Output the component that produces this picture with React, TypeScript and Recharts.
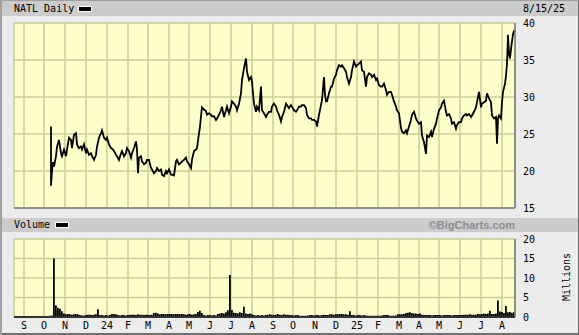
import React from 'react';
import { ComposedChart, Line, Bar, XAxis, YAxis, CartesianGrid } from 'recharts';

// x = trading-day index from 8/15/23 (0) to 8/15/25 (501)
const monthTicks = [10, 30, 51, 72, 93, 114, 134, 155, 175, 196, 217, 238, 259, 279, 301, 322, 343, 364, 385, 405, 425, 446, 467, 488];
const monthLabels = ['S', 'O', 'N', 'D', '24', 'F', 'M', 'A', 'M', 'J', 'J', 'A', 'S', 'O', 'N', 'D', '25', 'F', 'M', 'A', 'M', 'J', 'J', 'A'];

const priceTicks = [15, 20, 25, 30, 35, 40];
const volumeTicks = [0, 5, 10, 15, 20];

const priceDays = [
  37, 37, 38, 39, 40, 42, 43, 45, 47, 48, 50, 52, 53, 55, 57, 58, 60, 62, 63, 65, 67, 68, 70, 72, 73, 75, 77, 78, 80, 82,
  83, 85, 87, 88, 90, 92, 93, 95, 97, 99, 100, 102, 103, 105, 107, 108, 110, 112, 113, 115, 117, 118, 120, 122, 123, 124, 125, 127, 128, 130,
  132, 133, 135, 137, 138, 140, 142, 143, 145, 147, 148, 150, 152, 153, 155, 157, 158, 160, 162, 163, 165, 167, 168, 170, 172, 173, 175, 177, 178, 180,
  182, 183, 185, 186, 187, 188, 190, 192, 193, 195, 197, 198, 200, 202, 203, 205, 207, 208, 210, 212, 213, 215, 217, 218, 220, 222, 223, 225, 227, 228,
  230, 232, 233, 235, 237, 238, 239, 240, 242, 243, 245, 247, 248, 250, 252, 253, 255, 257, 258, 260, 262, 263, 265, 267, 268, 270, 272, 273, 275, 277,
  278, 280, 282, 283, 285, 287, 288, 290, 292, 293, 295, 297, 298, 300, 302, 303, 305, 307, 308, 310, 311, 312, 313, 315, 317, 318, 320, 322, 323, 325,
  327, 328, 330, 332, 333, 335, 337, 338, 340, 342, 343, 345, 347, 348, 350, 352, 353, 355, 357, 358, 360, 362, 363, 365, 367, 368, 370, 372, 373, 375,
  377, 378, 380, 382, 383, 385, 387, 388, 390, 392, 393, 395, 397, 398, 400, 402, 403, 405, 407, 408, 410, 412, 413, 415, 417, 418, 420, 422, 423, 425,
  427, 428, 430, 432, 433, 435, 437, 438, 440, 442, 443, 445, 447, 448, 450, 452, 453, 455, 457, 458, 460, 462, 463, 465, 467, 468, 470, 472, 473, 475,
  477, 478, 480, 482, 483, 484, 485, 487, 488, 489, 491, 492, 493, 494, 495, 496, 497, 498, 499, 500, 501,
];
const priceValues = [
  26.0, 18.0, 20.0, 21.2, 20.6, 22.0, 23.3, 24.2, 22.4, 22.0, 22.9, 22.0, 22.9, 24.5, 24.2, 23.1, 24.9, 25.1, 23.6, 23.1, 23.3, 22.9, 23.6, 22.4, 22.9, 22.2, 22.4, 22.0, 21.5, 22.2,
  23.3, 24.5, 25.1, 25.5, 24.5, 24.2, 24.5, 23.6, 23.1, 22.9, 22.7, 22.2, 22.0, 21.5, 22.4, 22.7, 22.0, 22.4, 23.1, 22.7, 21.8, 22.4, 23.1, 24.0, 22.9, 19.7, 21.8, 22.0, 21.3, 20.9,
  21.1, 21.5, 21.5, 20.4, 20.2, 19.7, 20.0, 20.4, 20.0, 20.2, 19.5, 19.3, 20.0, 19.7, 20.2, 19.5, 19.5, 19.4, 21.3, 21.5, 20.9, 21.1, 21.3, 21.5, 21.8, 21.3, 20.9, 20.4, 21.5, 22.7,
  22.9, 23.1, 25.1, 26.0, 27.4, 28.6, 28.3, 28.1, 27.6, 27.8, 27.6, 27.4, 27.4, 26.9, 27.1, 27.6, 28.2, 28.7, 27.3, 28.2, 28.7, 27.8, 28.7, 29.4, 29.1, 28.7, 28.2, 29.1, 30.5, 32.3,
  33.9, 35.2, 33.4, 32.3, 32.7, 32.1, 30.5, 29.1, 28.0, 28.7, 28.2, 31.4, 28.2, 27.8, 27.3, 27.6, 28.0, 28.0, 28.7, 29.1, 28.7, 28.2, 27.6, 26.7, 27.3, 28.0, 29.1, 28.9, 28.5, 28.9,
  28.7, 28.2, 28.0, 28.2, 28.7, 28.7, 28.9, 28.9, 28.5, 27.6, 27.1, 27.1, 26.9, 26.9, 26.7, 26.0, 27.6, 28.9, 29.6, 32.7, 30.3, 29.4, 29.4, 30.5, 31.4, 31.4, 32.5, 33.0, 33.6, 34.3,
  34.1, 34.3, 33.9, 33.4, 32.7, 31.8, 32.7, 33.6, 34.8, 34.1, 34.3, 34.5, 34.8, 33.6, 33.4, 31.4, 32.7, 33.2, 33.0, 32.7, 33.0, 32.3, 32.5, 31.6, 31.4, 31.4, 31.8, 30.9, 30.3, 30.7,
  30.7, 30.3, 29.4, 28.7, 28.2, 27.8, 25.8, 25.3, 25.1, 25.5, 25.1, 26.0, 26.9, 27.6, 28.0, 27.1, 26.8, 26.4, 26.6, 24.8, 23.9, 22.3, 24.8, 24.6, 25.3, 24.6, 25.7, 26.4, 27.1, 28.2,
  28.6, 29.1, 29.5, 28.0, 27.5, 27.7, 27.1, 26.4, 26.6, 25.7, 26.2, 26.6, 26.6, 27.1, 27.5, 27.7, 27.5, 27.7, 27.3, 27.5, 28.0, 28.6, 29.3, 30.7, 28.6, 29.1, 29.3, 29.5, 30.5, 29.8,
  29.3, 27.5, 27.1, 27.3, 23.7, 27.1, 27.5, 27.1, 29.3, 30.7, 31.8, 32.9, 34.5, 38.4, 35.8, 35.2, 36.5, 37.5, 38.5, 38.9, 38.8,
];

// volume in millions, one bar per two trading days starting at day 36
const volumeStartDay = 36;
const volumeValues = [
  0.3, 0.4, 15.0, 3.0, 2.4, 2.1, 1.5, 0.9, 0.7, 0.8, 0.7, 0.6, 0.7, 0.8, 0.7, 0.5, 0.4, 0.4, 0.5, 0.6,
  0.6, 0.5, 0.6, 0.7, 2.0, 0.5, 0.5, 0.4, 0.5, 0.4, 0.5, 0.8, 0.8, 0.7, 0.5, 0.4, 0.5, 0.5, 0.4, 0.5,
  0.6, 0.6, 0.6, 0.5, 0.7, 0.6, 0.6, 0.5, 0.6, 0.6, 0.5, 0.6, 1.0, 1.1, 0.9, 0.7, 0.8, 0.8, 0.7, 0.8,
  0.8, 0.8, 0.7, 0.8, 0.8, 0.7, 0.8, 0.7, 0.6, 0.7, 0.8, 0.6, 0.7, 0.8, 1.3, 1.6, 1.0, 0.5, 0.4, 0.5,
  0.5, 0.4, 0.5, 0.4, 0.8, 0.9, 1.0, 0.9, 1.2, 1.7, 10.8, 1.8, 1.1, 1.0, 0.9, 1.2, 1.0, 2.6, 0.9, 0.8,
  0.9, 0.7, 0.5, 0.4, 0.5, 0.4, 0.5, 0.4, 0.5, 0.6, 0.7, 0.6, 0.5, 0.6, 0.8, 0.6, 0.5, 0.7, 0.6, 0.6,
  0.5, 0.5, 0.4, 0.5, 0.5, 0.3, 0.3, 0.3, 0.3, 0.4, 0.5, 0.5, 0.4, 0.5, 0.5, 0.4, 0.5, 0.6, 0.5, 0.5,
  0.7, 0.7, 0.6, 0.7, 0.7, 0.8, 0.8, 0.7, 0.7, 0.6, 1.5, 0.5, 0.5, 0.4, 0.5, 0.5, 0.4, 0.5, 0.4, 0.3,
  0.3, 0.3, 0.3, 0.3, 0.3, 0.3, 0.4, 0.5, 0.5, 0.5, 0.3, 0.3, 0.3, 0.4, 0.7, 0.7, 0.7, 0.8, 1.0, 1.1,
  1.2, 1.0, 0.9, 0.9, 0.8, 0.9, 0.6, 0.5, 0.5, 0.5, 0.5, 0.4, 0.5, 0.5, 0.5, 0.5, 0.4, 0.5, 0.5, 0.5,
  0.5, 0.4, 0.5, 0.5, 0.5, 0.5, 0.5, 0.6, 0.6, 0.6, 0.7, 0.6, 0.6, 0.6, 0.8, 0.7, 0.8, 0.9, 0.8, 0.9,
  1.6, 0.8, 0.8, 0.9, 4.2, 1.4, 1.3, 1.0, 2.8, 1.2, 1.3, 1.1, 1.2,
];

const priceData = priceDays.map((day, i) => ({ day, price: priceValues[i] }));
const volumeData = volumeValues.map((vol, i) => ({ day: volumeStartDay + i * 2, vol }));

const mono = '"DejaVu Sans Mono", monospace';
const plotBg = '#ffffcc';
const gridColor = '#cccc99';
const tickStyle = { fontSize: 10, fill: '#000', fontFamily: mono };
const monthLabel = (v: number) => monthLabels[monthTicks.indexOf(v)] ?? '';

const Swatch = ({ left, top }: { left: number; top: number }) => (
  <div style={{ position: 'absolute', left, top, width: 12, height: 4, background: '#000', outline: '1px solid #fff' }} />
);

export default function App() {
  return (
    <div
      style={{
        position: 'absolute',
        left: 0,
        top: 0,
        width: 579,
        height: 335,
        background: '#ececec',
        fontFamily: mono,
        fontSize: 10,
        color: '#000',
        boxShadow: 'inset 2px 1px 0 #a0a0a0, inset -1px -2px 0 #707070',
        overflow: 'hidden',
      }}
    >
      {/* price header */}
      <div style={{ position: 'absolute', left: 2, top: 1, width: 576, height: 15, background: '#cccccc' }} />
      <div style={{ position: 'absolute', left: 14, top: 2, lineHeight: '13px' }}>NATL Daily</div>
      <Swatch left={79} top={7} />
      <div style={{ position: 'absolute', left: 523, top: 2, lineHeight: '13px' }}>8/15/25</div>

      {/* volume header */}
      <div style={{ position: 'absolute', left: 2, top: 218, width: 576, height: 14, background: '#cccccc' }} />
      <div style={{ position: 'absolute', left: 14, top: 218, lineHeight: '13px' }}>Volume</div>
      <Swatch left={56} top={223} />
      <div
        style={{
          position: 'absolute',
          right: 64,
          top: 218,
          lineHeight: '14px',
          fontFamily: '"Liberation Sans", Arial, sans-serif',
          fontWeight: 'bold',
          fontSize: 11,
          color: '#8c8c8c',
        }}
      >
        ©BigCharts.com
      </div>
      <div
        style={{
          position: 'absolute',
          left: 567,
          top: 277,
          transform: 'translate(-50%, -50%) rotate(-90deg)',
          whiteSpace: 'nowrap',
          lineHeight: '12px',
        }}
      >
        Millions
      </div>

      {/* price panel */}
      <div style={{ position: 'absolute', left: 0, top: 0 }}>
        <ComposedChart width={579} height={215} data={priceData} margin={{ top: 23, right: 14, bottom: 6, left: 14 }}>
          <CartesianGrid fill={plotBg} stroke={gridColor} strokeWidth={1.5} />
          <XAxis
            dataKey="day"
            type="number"
            domain={[0, 501]}
            ticks={monthTicks}
            interval={0}
            tickFormatter={() => ''}
            tickLine={false}
            tickSize={0}
            height={1}
            axisLine={{ stroke: '#777', strokeWidth: 1.5 }}
          />
          <YAxis
            orientation="right"
            width={50}
            domain={[15, 40]}
            ticks={priceTicks}
            interval={0}
            allowDataOverflow
            tickLine={false}
            tickSize={0}
            tickMargin={8}
            tick={tickStyle}
            axisLine={{ stroke: '#777', strokeWidth: 1.5 }}
          />
          <Line type="linear" dataKey="price" stroke="#000" strokeWidth={1.8} dot={false} isAnimationActive={false} />
        </ComposedChart>
      </div>

      {/* volume panel */}
      <div style={{ position: 'absolute', left: 0, top: 232 }}>
        <ComposedChart width={579} height={103} data={volumeData} margin={{ top: 7, right: 14, bottom: 0, left: 14 }}>
          <CartesianGrid fill={plotBg} stroke={gridColor} strokeWidth={1.5} />
          <XAxis
            dataKey="day"
            type="number"
            domain={[0, 501]}
            ticks={monthTicks}
            interval={0}
            tickFormatter={monthLabel}
            tickLine={false}
            tickSize={0}
            tickMargin={5}
            height={18}
            tick={tickStyle}
            axisLine={{ stroke: '#333', strokeWidth: 2 }}
          />
          <YAxis
            orientation="right"
            width={50}
            domain={[0, 20]}
            ticks={volumeTicks}
            interval={0}
            tickLine={false}
            tickSize={0}
            tickMargin={8}
            tick={tickStyle}
            axisLine={{ stroke: '#777', strokeWidth: 1.5 }}
          />
          <Bar dataKey="vol" fill="#000" barSize={2} isAnimationActive={false} />
        </ComposedChart>
      </div>
    </div>
  );
}
